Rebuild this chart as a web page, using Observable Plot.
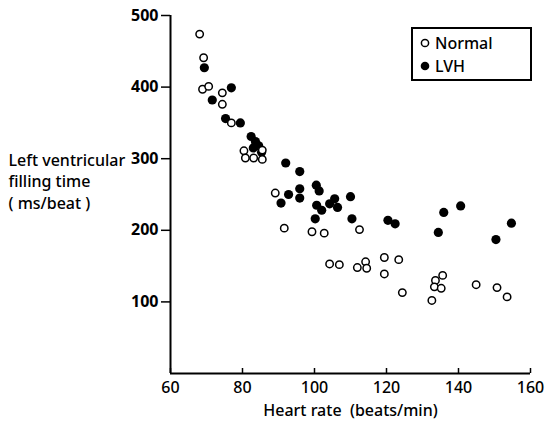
<!DOCTYPE html>
<html><head><meta charset="utf-8">
<script src="https://cdn.jsdelivr.net/npm/d3@7"></script>
<script src="https://cdn.jsdelivr.net/npm/@observablehq/plot@0.6"></script>
<style>
body{margin:0;background:#fff;font-family:"Noto Sans",sans-serif;}
#wrap{position:relative;width:546px;height:422px;}
#legend{position:absolute;left:411px;top:27px;width:117px;height:50px;border:2px solid #000;background:#fff;font-size:16px;font-weight:500;}
#legend div{position:absolute;left:7px;display:flex;align-items:center;}
#legend svg{margin-right:5px;}
</style></head>
<body><div id="wrap"><div id="chart"></div>
<div id="legend">
<div style="top:3px"><svg width="10" height="10"><circle cx="5" cy="5" r="3.6" fill="#fff" stroke="#000" stroke-width="1.5"/></svg>Normal</div>
<div style="top:26px"><svg width="10" height="10"><circle cx="5" cy="5" r="4.3" fill="#000"/></svg>LVH</div>
</div></div>
<script>
const normalX = [68.1,69.2,68.9,70.6,74.4,74.4,76.9,80.4,85.5,80.8,83.1,85.5,89.1,91.6,99.3,102.7,112.5,104.2,106.9,111.9,114.2,114.5,119.4,123.4,119.4,124.4,135.6,133.6,133.3,135.2,132.6,144.9,150.7,153.5];
const normalY = [474,441,397,401,392,376,350,311,312,301,301,299,252,203,198,196,201,153,152,148,156,147,162,159,139,113,137,130,121,119,102,124,120,107];
const lvhX = [69.4,76.9,71.6,75.3,79.4,82.4,83.6,84.5,83.0,85.3,92.0,95.9,100.5,101.3,92.8,95.9,95.9,90.7,100.6,102.0,104.2,105.6,106.4,110.0,100.2,110.4,120.4,122.4,135.9,140.6,134.4,154.7,150.4];
const lvhY = [427,399,382,356,350,331,324,318,315,309,294,282,263,255,250,258,245,238,235,228,237,244,232,247,216,216,214,209,225,234,197,210,187];
const xTicks = [60,80,100,120,140,160];
const yTicks = [100,200,300,400,500];
const xLabel = "Heart rate  (beats/min)";
const yLabel = "Left ventricular\nfilling time\n( ms/beat )";

const normal = normalX.map((x,i)=>({x, y: normalY[i]}));
const lvh = lvhX.map((x,i)=>({x, y: lvhY[i]}));

const chart = Plot.plot({
  width: 546, height: 422,
  marginLeft: 170, marginRight: 16, marginTop: 15, marginBottom: 49,
  style: {fontFamily: "Noto Sans, sans-serif", fontSize: "16px", color: "#000", background: "#fff"},
  x: {domain: [60,160], ticks: xTicks},
  y: {domain: [0,500], ticks: yTicks},
  marks: [
    Plot.axisX({ticks: xTicks, tickSize: 0, tickPadding: 8, label: null, fontSize: 16, fontWeight: 500}),
    Plot.ruleX(xTicks, {y1: 0, y2: 0, insetTop: -5, stroke: "#000", strokeWidth: 1.5}),
    Plot.axisY({ticks: yTicks, tickSize: 9, tickPadding: 3, label: null, fontSize: 16, fontWeight: 700, strokeWidth: 1.5}),
    Plot.ruleY([0], {stroke: "#000", strokeWidth: 2}),
    Plot.ruleX([60], {stroke: "#000", strokeWidth: 2}),
    Plot.text([xLabel], {frameAnchor: "bottom", dy: 42, fontSize: 16, fontWeight: 500, fill: "#000"}),
    Plot.text([yLabel], {frameAnchor: "left", dx: -162, dy: -14, textAnchor: "start", lineHeight: 1.35, fontSize: 16, fontWeight: 500, fill: "#000"}),
    Plot.dot(lvh, {x: "x", y: "y", r: 4.6, fill: "#000", stroke: "none"}),
    Plot.dot(normal, {x: "x", y: "y", r: 3.7, fill: "#fff", stroke: "#000", strokeWidth: 1.5})
  ]
});
document.getElementById("chart").appendChild(chart);
</script></body></html>
